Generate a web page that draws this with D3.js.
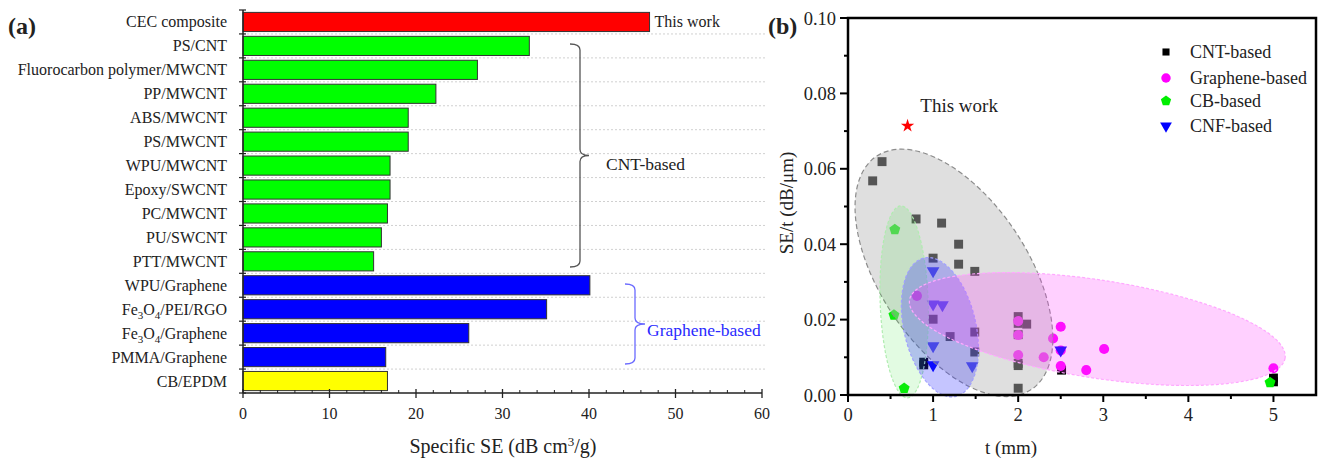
<!DOCTYPE html>
<html><head><meta charset="utf-8">
<script src="https://cdn.jsdelivr.net/npm/d3@7"></script>
<style>
body{margin:0;background:#fff}
svg{display:block}
text{font-family:"Liberation Serif","Times New Roman",serif;fill:#222}
</style>
</head><body>
<svg id="c" width="1319" height="459"></svg>
<script>
// ---------- Panel (a) data ----------
const categories = ["CEC composite","PS/CNT","Fluorocarbon polymer/MWCNT","PP/MWCNT","ABS/MWCNT","PS/MWCNT","WPU/MWCNT","Epoxy/SWCNT","PC/MWCNT","PU/SWCNT","PTT/MWCNT","WPU/Graphene","Fe3O4/PEI/RGO","Fe3O4/Graphene","PMMA/Graphene","CB/EPDM"];
const specificSE = [47.0,33.1,27.1,22.3,19.1,19.1,17.0,17.0,16.7,16.0,15.1,40.1,35.1,26.1,16.5,16.7];
const groupsA = ["This work","CNT","CNT","CNT","CNT","CNT","CNT","CNT","CNT","CNT","CNT","Graphene","Graphene","Graphene","Graphene","CB"];
const xTicksA = [0,10,20,30,40,50,60];

// ---------- Panel (b) data ----------
const cntT  = [0.29,0.40,0.80,1.10,1.30,1.00,1.30,1.49,1.00,1.20,1.49,1.49,0.89,0.89,2.00,2.00,2.00,2.10,2.00,2.00,2.00,2.51,5.00,5.00];
const cntY  = [0.0568,0.0619,0.0467,0.0456,0.0400,0.0363,0.0347,0.0328,0.0201,0.0155,0.0167,0.0114,0.0087,0.0080,0.0208,0.0190,0.0160,0.0188,0.0084,0.0078,0.0018,0.0066,0.0035,0.0045];
const grT   = [0.81,2.00,2.00,2.00,2.30,2.41,2.50,2.50,2.50,2.80,3.01,5.00];
const grY   = [0.0263,0.0196,0.0159,0.0106,0.0100,0.0150,0.0181,0.0118,0.0077,0.0066,0.0122,0.0071];
const cbT   = [0.55,0.54,0.66,4.96];
const cbY   = [0.0439,0.0212,0.0018,0.0033];
const cnfT  = [1.00,1.00,1.11,1.00,1.00,1.46,2.50];
const cnfY  = [0.0329,0.0241,0.0239,0.0130,0.0080,0.0077,0.0119];
const thisWork = {t:0.70, y:0.0714};
const legendNames = ["CNT-based","Graphene-based","CB-based","CNF-based"];
const xTicksB = [0,1,2,3,4,5];
const yTicksB = [0,0.02,0.04,0.06,0.08,0.10];

const svg = d3.select("#c");
svg.append("rect").attr("width",1319).attr("height",459).attr("fill","#fff");

// ================= Panel (a) =================
const colorA = {"This work":"#ff0000","CNT":"#00ff00","Graphene":"#0000ff","CB":"#ffff00"};
const xA = d3.scaleLinear().domain([0,60]).range([243,762]);
const yA = d3.scaleBand().domain(categories).range([10,393]).paddingInner(0.2).paddingOuter(0.1);
const stepA = yA.step();
const gA = svg.append("g");

// dotted grid lines at band boundaries
gA.selectAll("line.grid").data(d3.range(1,16)).join("line")
  .attr("x1",xA(0)).attr("x2",765)
  .attr("y1",k=>10+k*stepA).attr("y2",k=>10+k*stepA)
  .attr("stroke","#d0d0d0").attr("stroke-dasharray","2,2").attr("stroke-width",1);

// bars
gA.selectAll("rect.bar").data(categories).join("rect")
  .attr("x",xA(0)).attr("y",d=>yA(d))
  .attr("width",(d,i)=>xA(specificSE[i])-xA(0))
  .attr("height",yA.bandwidth())
  .attr("fill",(d,i)=>colorA[groupsA[i]])
  .attr("stroke","#333").attr("stroke-width",1);

// left axis
gA.append("line").attr("x1",xA(0)).attr("x2",xA(0)).attr("y1",10).attr("y2",393).attr("stroke","#222").attr("stroke-width",1.5);
gA.selectAll("line.yt").data(d3.range(0,17)).join("line")
  .attr("x1",xA(0)-4).attr("x2",xA(0)+3)
  .attr("y1",k=>10+k*stepA).attr("y2",k=>10+k*stepA)
  .attr("stroke","#222").attr("stroke-width",1.2);

// category labels (digits become subscripts)
const labs = gA.selectAll("text.cat").data(categories).join("text")
  .attr("x",227).attr("y",d=>yA(d)+yA.bandwidth()/2+5.5)
  .attr("text-anchor","end").attr("font-size",16).attr("fill","#333");
labs.each(function(d){
  const t = d3.select(this);
  const parts = d.split(/(\d)/);
  let sub=false;
  parts.forEach(p=>{
    if(p==="") return;
    if(/^\d$/.test(p)){
      t.append("tspan").attr("font-size",11).attr("dy",4).text(p);
      sub=true;
    } else {
      const ts=t.append("tspan").text(p);
      if(sub){ts.attr("dy",-4);sub=false;}
    }
  });
});

// bottom axis
gA.append("line").attr("x1",xA(0)).attr("x2",xA(60)).attr("y1",393).attr("y2",393).attr("stroke","#222").attr("stroke-width",1.5);
gA.selectAll("line.xmin").data(d3.range(0,61,2).filter(v=>v%10!==0)).join("line")
  .attr("x1",d=>xA(d)).attr("x2",d=>xA(d)).attr("y1",390).attr("y2",393)
  .attr("stroke","#222").attr("stroke-width",1);
gA.selectAll("line.xmaj").data(xTicksA).join("line")
  .attr("x1",d=>xA(d)).attr("x2",d=>xA(d)).attr("y1",389).attr("y2",398)
  .attr("stroke","#222").attr("stroke-width",1.3);
gA.selectAll("text.xl").data(xTicksA).join("text")
  .attr("x",d=>xA(d)).attr("y",419).attr("text-anchor","middle").attr("font-size",16).attr("fill","#333")
  .text(d=>d);
const tA = gA.append("text").attr("x",503).attr("y",453).attr("text-anchor","middle").attr("font-size",20).attr("fill","#333");
tA.append("tspan").text("Specific SE (dB cm");
tA.append("tspan").attr("font-size",13).attr("dy",-7).text("3");
tA.append("tspan").attr("dy",7).text("/g)");

// annotations
gA.append("text").attr("x",xA(specificSE[0])+5).attr("y",yA(categories[0])+yA.bandwidth()/2+5.5)
  .attr("font-size",16).attr("fill","#333").text("This work");

function brace(xa,xs,xt,y0,y1,r){
  const ym=(y0+y1)/2;
  return `M${xa},${y0} Q${xs},${y0} ${xs},${y0+r} L${xs},${ym-r} Q${xs},${ym} ${xt},${ym} Q${xs},${ym} ${xs},${ym+r} L${xs},${y1-r} Q${xs},${y1} ${xa},${y1}`;
}
gA.append("path").attr("d",brace(570,580,589,44,267,6)).attr("fill","none").attr("stroke","#555").attr("stroke-width",1.3);
gA.append("text").attr("x",606).attr("y",170).attr("font-size",17.5).attr("fill","#222").text("CNT-based");
gA.append("path").attr("d",brace(625,635,645,284,364,6)).attr("fill","none").attr("stroke","#6a6aff").attr("stroke-width",1.3);
gA.append("text").attr("x",647).attr("y",336).attr("font-size",17.5).style("fill","#2a2aff").text("Graphene-based");

svg.append("text").attr("x",8).attr("y",34).attr("font-size",24).attr("font-weight","bold").attr("fill","#111").text("(a)");

// ================= Panel (b) =================
const xB = d3.scaleLinear().domain([0,5.5]).range([848,1316]);
const yB = d3.scaleLinear().domain([0,0.10]).range([395,18]);
const gB = svg.append("g");

const pentagon = {draw(ctx,size){
  const r=Math.sqrt(size)/1.55;
  for(let k=0;k<5;k++){
    const a=-Math.PI/2+k*2*Math.PI/5;
    const x=r*Math.cos(a), y=r*Math.sin(a);
    if(k===0)ctx.moveTo(x,y);else ctx.lineTo(x,y);
  }
  ctx.closePath();
}};

const series = [
  {name:legendNames[0], t:cntT, y:cntY, sym:d3.symbolSquare, size:80, color:"#000000", rot:0},
  {name:legendNames[1], t:grT, y:grY, sym:d3.symbolCircle, size:80, color:"#ff00ff", rot:0},
  {name:legendNames[2], t:cbT, y:cbY, sym:pentagon, size:80, color:"#00ee00", rot:0},
  {name:legendNames[3], t:cnfT, y:cnfY, sym:d3.symbolTriangle, size:70, color:"#0000ff", rot:180}
];
series.forEach(s=>{
  gB.selectAll(null).data(s.t.map((t,i)=>({t,y:s.y[i]}))).join("path")
    .attr("d",d3.symbol(s.sym,s.size))
    .attr("transform",d=>`translate(${xB(d.t)},${yB(d.y)}) rotate(${s.rot})`)
    .attr("fill",s.color);
});

// translucent ellipses drawn above the points
const ellipses = [
  {t:1.245,y:0.0324, rx:140, ry:74, rot:56.5, fill:"rgb(185,185,185)", op:0.46, stroke:"#8c8c8c", dash:"5,3"},
  {t:0.66, y:0.0247, rx:24,  ry:96, rot:-2,   fill:"rgb(60,230,60)",  op:0.15, stroke:"#b0ecb0", dash:"3,2"},
  {t:1.08, y:0.0180, rx:36,  ry:71, rot:-13,  fill:"rgb(40,40,255)",  op:0.27, stroke:"#a0a0ff", dash:"3,2"},
  {t:2.93, y:0.0175, rx:190, ry:49, rot:8.8,  fill:"rgb(255,60,255)", op:0.24, stroke:"#ffa8ff", dash:"3,2"}
];
gB.selectAll("ellipse").data(ellipses).join("ellipse")
  .attr("cx",0).attr("cy",0).attr("rx",d=>d.rx).attr("ry",d=>d.ry)
  .attr("transform",d=>`translate(${xB(d.t)},${yB(d.y)}) rotate(${d.rot})`)
  .attr("fill",d=>d.fill).attr("fill-opacity",d=>d.op)
  .attr("stroke",d=>d.stroke).attr("stroke-dasharray",d=>d.dash).attr("stroke-width",1.2);

// this work star
gB.append("path").attr("d",d3.symbol(d3.symbolStar,55))
  .attr("transform",`translate(${xB(thisWork.t)},${yB(thisWork.y)})`).attr("fill","#ff0000");
gB.append("text").attr("x",xB(0.85)).attr("y",yB(0.0751)).attr("font-size",19).attr("fill","#222").text("This work");

// frame
gB.append("rect").attr("x",848).attr("y",18).attr("width",1316-848).attr("height",395-18)
  .attr("fill","none").attr("stroke","#000").attr("stroke-width",2.5);

// y ticks
gB.selectAll("line.ymin").data(d3.range(1,10,2).map(v=>v/100)).join("line")
  .attr("x1",844).attr("x2",848).attr("y1",d=>yB(d)).attr("y2",d=>yB(d)).attr("stroke","#000").attr("stroke-width",2);
gB.selectAll("line.ymaj").data(yTicksB).join("line")
  .attr("x1",840).attr("x2",848).attr("y1",d=>yB(d)).attr("y2",d=>yB(d)).attr("stroke","#000").attr("stroke-width",2);
gB.selectAll("text.yl").data(yTicksB).join("text")
  .attr("x",836).attr("y",d=>yB(d)+6.5).attr("text-anchor","end").attr("font-size",18.5).attr("fill","#222")
  .text(d=>d3.format(".2f")(d));
// x ticks
gB.selectAll("line.xminb").data([0.5,1.5,2.5,3.5,4.5]).join("line")
  .attr("x1",d=>xB(d)).attr("x2",d=>xB(d)).attr("y1",395).attr("y2",399).attr("stroke","#000").attr("stroke-width",2);
gB.selectAll("line.xmajb").data(xTicksB).join("line")
  .attr("x1",d=>xB(d)).attr("x2",d=>xB(d)).attr("y1",395).attr("y2",402).attr("stroke","#000").attr("stroke-width",2);
gB.selectAll("text.xlb").data(xTicksB).join("text")
  .attr("x",d=>xB(d)).attr("y",421).attr("text-anchor","middle").attr("font-size",18.5).attr("fill","#222")
  .text(d=>d);

gB.append("text").attr("x",1011).attr("y",454).attr("text-anchor","middle").attr("font-size",19).attr("fill","#222").text("t (mm)");
gB.append("text").attr("transform","translate(793,203) rotate(-90)").attr("text-anchor","middle").attr("font-size",19).attr("fill","#222").text("SE/t (dB/μm)");

svg.append("text").attr("x",768).attr("y",34).attr("font-size",24).attr("font-weight","bold").attr("fill","#111").text("(b)");

// legend
const legY = [52,78,101,126];
const legSizes = [50,70,70,60];
series.forEach((s,i)=>{
  gB.append("path").attr("d",d3.symbol(s.sym,legSizes[i]))
    .attr("transform",`translate(1166,${legY[i]}) rotate(${s.rot})`).attr("fill",s.color);
  gB.append("text").attr("x",1190).attr("y",legY[i]+6).attr("font-size",18).attr("fill","#222").text(s.name);
});
</script>
</body></html>
